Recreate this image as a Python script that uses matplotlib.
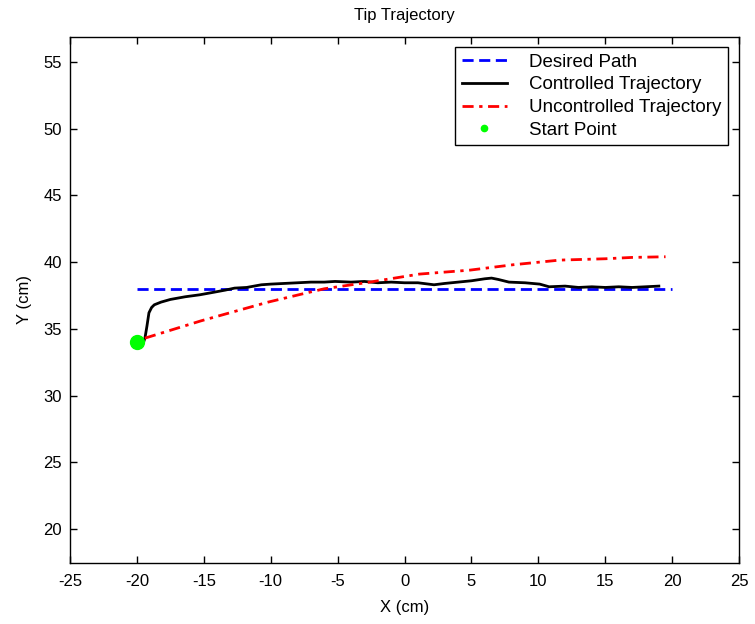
import matplotlib
matplotlib.use("Agg")
import matplotlib.pyplot as plt

plt.rcParams['font.family'] = ['Liberation Sans', 'DejaVu Sans']
plt.rcParams['axes.unicode_minus'] = False

# Desired straight-line path
desired_x = [-20, 20]
desired_y = [38, 38]

# Controlled tip trajectory
ctrl_x = [-19.5, -19.4, -19.25, -19.1, -18.9, -18.7, -18.2, -17.5, -16.4, -15.3,
          -14.2, -13.4, -12.7, -11.8, -10.7, -10.0, -9.0, -8.0, -7.0, -6.0,
          -5.2, -4.0, -3.0, -2.0, -1.0, 0.0, 1.0, 2.2, 3.0, 4.0,
          5.0, 6.0, 6.5, 7.0, 7.8, 9.0, 10.1, 10.8, 12.0, 13.0,
          14.0, 15.0, 16.0, 17.0, 18.0, 19.0]
ctrl_y = [34.0, 34.3, 35.2, 36.2, 36.6, 36.8, 37.0, 37.2, 37.4, 37.55,
          37.75, 37.9, 38.05, 38.1, 38.3, 38.35, 38.4, 38.45, 38.5, 38.5,
          38.55, 38.5, 38.55, 38.45, 38.5, 38.45, 38.45, 38.3, 38.4, 38.5,
          38.6, 38.75, 38.8, 38.7, 38.5, 38.45, 38.35, 38.15, 38.2, 38.1,
          38.15, 38.1, 38.15, 38.1, 38.15, 38.2]

# Uncontrolled tip trajectory
unctrl_x = [-19.4, -15.2, -12.7, -10.2, -7.7, -6.0, -2.6, 1.1, 4.9, 8.1,
            11.6, 15.0, 17.0, 19.5]
unctrl_y = [34.3, 35.6, 36.3, 37.0, 37.6, 38.0, 38.5, 39.1, 39.4, 39.8,
            40.15, 40.25, 40.35, 40.4]

# Starting point of the tip
start_x = [-20]
start_y = [34]

x_ticks = [-25, -20, -15, -10, -5, 0, 5, 10, 15, 20, 25]
y_ticks = [20, 25, 30, 35, 40, 45, 50, 55]

fig = plt.figure(figsize=(7.55, 6.24), dpi=100)
ax = fig.add_axes([0.0927, 0.0978, 0.8863, 0.8429])

ax.plot(desired_x, desired_y, color='#0000ff', linestyle=(0, (4, 2)), linewidth=2,
        label='Desired Path')
ax.plot(ctrl_x, ctrl_y, color='black', linewidth=2, label='Controlled Trajectory')
ax.plot(unctrl_x, unctrl_y, color='#ff0000', linestyle=(0, (4, 2, 1.2, 2)), linewidth=2,
        label='Uncontrolled Trajectory')
ax.plot(start_x, start_y, linestyle='none', marker='o', color='#00ff00',
        markersize=10, label='Start Point')

ax.set_xlim(-25, 25)
ax.set_ylim(17.45, 56.87)
ax.set_xticks(x_ticks)
ax.set_yticks(y_ticks)
ax.tick_params(direction='in', top=True, right=True, length=5, labelsize=12, width=1)
ax.tick_params(axis='x', pad=8)
ax.tick_params(axis='y', pad=6)
for s in ax.spines.values():
    s.set_linewidth(1)

ax.set_title('Tip Trajectory', fontsize=12, pad=12)
ax.set_xlabel('X (cm)', fontsize=12, labelpad=8)
ax.set_ylabel('Y (cm)', fontsize=12, labelpad=8)

leg = ax.legend(loc='upper right', fontsize=13.5, fancybox=False, edgecolor='black',
                framealpha=1, handlelength=2.4, handletextpad=1.2, borderpad=0.35,
                labelspacing=0.3, borderaxespad=0, bbox_to_anchor=(0.9836, 0.981),
                markerscale=0.45)
leg.get_frame().set_linewidth(1)

fig.savefig('out.png', dpi=100)
